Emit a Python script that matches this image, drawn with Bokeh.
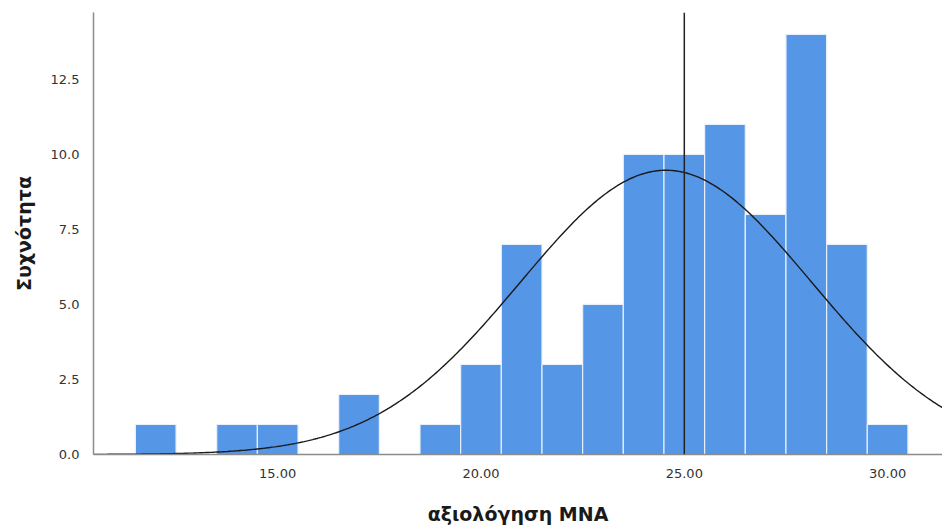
import numpy as np
from bokeh.plotting import figure
from bokeh.models import Range1d, Span, FixedTicker, NumeralTickFormatter
from bokeh.embed import file_html
from bokeh.resources import INLINE

# Data
bin_centers = [12, 14, 15, 17, 19, 20, 21, 22, 23, 24, 25, 26, 27, 28, 29, 30]
counts = [1, 1, 1, 2, 1, 3, 7, 3, 5, 10, 10, 11, 8, 14, 7, 1]
bin_width = 1.0
curve_mean = 24.55
curve_sd = 3.58
ref_line = 25.0
x_ticks = [15, 20, 25, 30]
y_ticks = [0, 2.5, 5, 7.5, 10, 12.5]
x_label = "αξιολόγηση MNA"
y_label = "Συχνότητα"

FONT = "DejaVu Sans"

p = figure(width=942, height=530, output_backend="svg", toolbar_location=None,
           x_range=Range1d(10.47, 31.35), y_range=Range1d(0, 14.73),
           min_border_left=93, min_border_right=0, min_border_top=12, min_border_bottom=76)
p.outline_line_color = None
p.xgrid.grid_line_color = None
p.ygrid.grid_line_color = None
p.background_fill_color = "white"
p.border_fill_color = "white"

centers = np.array(bin_centers, dtype=float)
p.quad(left=centers - bin_width / 2, right=centers + bin_width / 2,
       bottom=0, top=counts, fill_color="#5596e6", line_color="#e8f0fb", line_width=1.2)

n = sum(counts)
xs = np.linspace(10.47, 31.35, 400)
ys = n * bin_width / (curve_sd * np.sqrt(2 * np.pi)) * np.exp(-0.5 * ((xs - curve_mean) / curve_sd) ** 2)
p.line(xs, ys, line_color="#1a1a1a", line_width=1.4)

p.add_layout(Span(location=ref_line, dimension="height", line_color="#222222", line_width=1.5))

for ax in (p.xaxis[0], p.yaxis[0]):
    ax.axis_line_color = "#8c8c8c"
    ax.axis_line_width = 1.5
    ax.major_tick_line_color = None
    ax.minor_tick_line_color = None
    ax.major_label_text_font = FONT
    ax.major_label_text_font_size = "13px"
    ax.major_label_text_color = "#333333"
    ax.axis_label_text_font = FONT
    ax.axis_label_text_font_size = "19px"
    ax.axis_label_text_font_style = "bold"
    ax.axis_label_text_color = "#1a1a1a"

p.xaxis.ticker = FixedTicker(ticks=x_ticks)
p.xaxis.formatter = NumeralTickFormatter(format="0.00")
p.xaxis.major_label_standoff = 8
p.xaxis.axis_label = x_label
p.xaxis.axis_label_standoff = 22

p.yaxis.ticker = FixedTicker(ticks=y_ticks)
p.yaxis.formatter = NumeralTickFormatter(format="0.0")
p.yaxis.major_label_standoff = 8
p.yaxis.axis_label = y_label
p.yaxis.axis_label_standoff = 13

open("out.html", "w").write(file_html(p, INLINE))
